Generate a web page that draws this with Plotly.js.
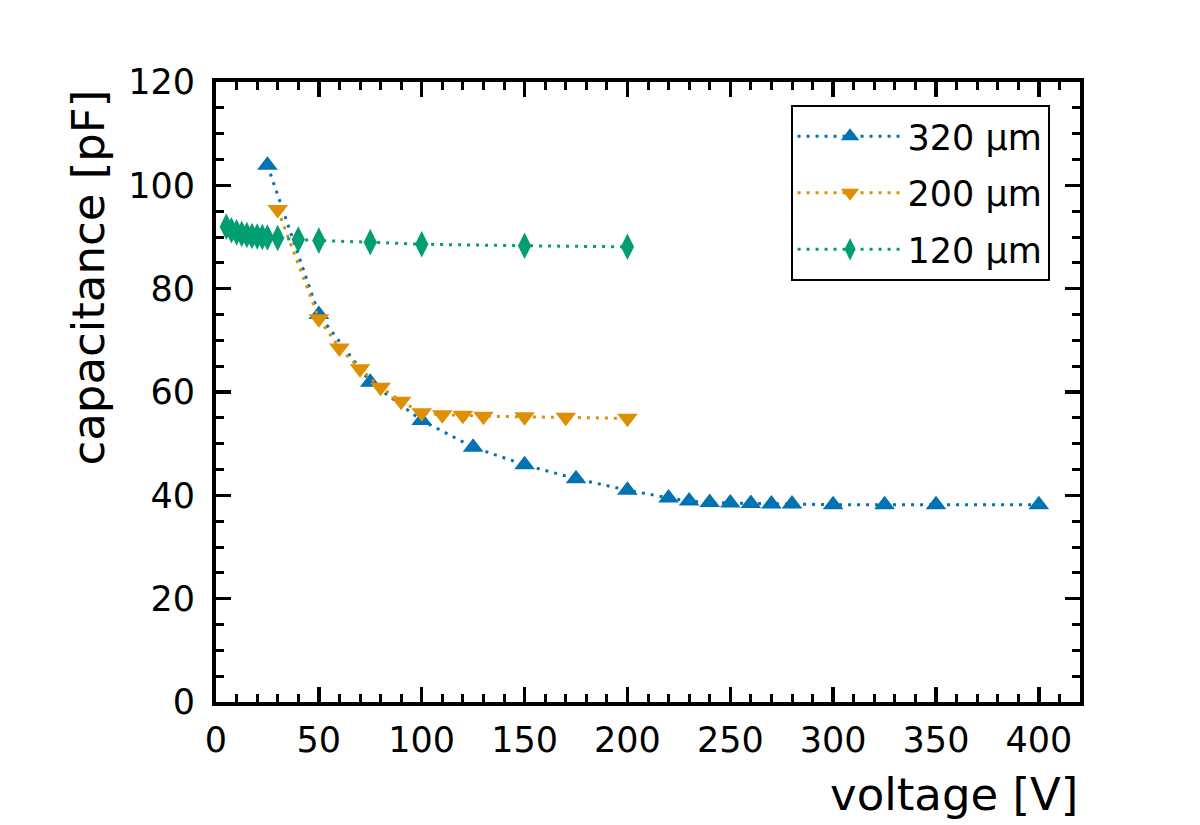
<!DOCTYPE html>
<html>
<head>
<meta charset="utf-8">
<script src="https://cdn.plot.ly/plotly-3.0.1.min.js"></script>
<style>html,body{margin:0;padding:0;background:#fff;}#chart{width:1200px;height:825px;}</style>
</head>
<body>
<div id="chart"></div>
<script>
// 320 µm
const v320 = [25, 50, 75, 100, 125, 150, 175, 200, 220, 230, 240, 250, 260, 270, 280, 300, 325, 350, 400];
const c320 = [103.9, 75.0, 61.9, 54.5, 49.3, 45.9, 43.2, 41.0, 39.5, 38.9, 38.6, 38.5, 38.4, 38.3, 38.3, 38.2, 38.2, 38.2, 38.2];
// 200 µm
const v200 = [30, 50, 60, 70, 80, 90, 100, 110, 120, 130, 150, 170, 200];
const c200 = [95.3, 74.2, 68.5, 64.5, 60.9, 58.2, 56.0, 55.6, 55.5, 55.3, 55.2, 55.1, 54.9];
// 120 µm
const v120 = [5, 7.5, 10, 12.5, 15, 17.5, 20, 22.5, 25, 30, 40, 50, 75, 100, 150, 200];
const c120 = [92.0, 91.3, 90.9, 90.6, 90.4, 90.2, 90.1, 90.0, 89.9, 89.8, 89.5, 89.3, 89.0, 88.6, 88.3, 88.1];

const seriesNames = ['320 µm', '200 µm', '120 µm'];
const xTitle = 'voltage [V]';
const yTitle = 'capacitance [pF]';

const colors = ['#0173B2', '#DE8F05', '#029E73'];
const symbols = ['triangle-up', 'triangle-down', 'diamond-tall'];
const xs = [v320, v200, v120];
const ys = [c320, c200, c120];

const traces = xs.map((x, i) => ({
  x: x, y: ys[i], name: seriesNames[i], type: 'scatter', mode: 'lines+markers',
  legendgroup: 'g' + i,
  line: {color: colors[i], width: 3, dash: '3px,6px'},
  marker: {color: colors[i], symbol: symbols[i], size: i === 2 ? 19 : 18, line: {width: 0}}
}));

const axisCommon = {
  showline: true, linecolor: '#000', linewidth: 4, mirror: 'allticks',
  ticks: 'inside', ticklen: 15, tickwidth: 3.3, tickcolor: '#000',
  showgrid: false, zeroline: false,
  tickfont: {family: 'DejaVu Sans', size: 35, color: '#000'}
};

const layout = {
  width: 1200, height: 825,
  margin: {l: 216, r: 120, t: 82, b: 123},
  paper_bgcolor: '#fff', plot_bgcolor: '#fff',
  font: {family: 'DejaVu Sans', color: '#000'},
  showlegend: true,
  legend: {
    x: 0.665, y: 0.963, xanchor: 'left', yanchor: 'top',
    bordercolor: '#000', borderwidth: 2, bgcolor: '#fff',
    font: {family: 'DejaVu Sans', size: 35, color: '#000'},
    traceorder: 'grouped', tracegroupgap: 8, itemwidth: 105
  },
  xaxis: Object.assign({}, axisCommon, {
    range: [0, 420], dtick: 50, tick0: 0,
    minor: {dtick: 10, ticks: 'inside', ticklen: 8, tickwidth: 3, tickcolor: '#000'},
    ticklabelstandoff: 4
  }),
  yaxis: Object.assign({}, axisCommon, {
    range: [0, 120], dtick: 20, tick0: 0,
    minor: {dtick: 5, ticks: 'inside', ticklen: 8, tickwidth: 3, tickcolor: '#000'},
    ticklabelstandoff: 10
  }),
  annotations: [
    {text: xTitle, xref: 'paper', yref: 'paper', x: 1, y: 0, xanchor: 'right', yanchor: 'top',
     yshift: -64, showarrow: false, font: {family: 'DejaVu Sans', size: 45, color: '#000'}},
    {text: yTitle, xref: 'paper', yref: 'paper', x: 0, y: 1, xanchor: 'right', yanchor: 'top',
     xshift: -100, yshift: -6, textangle: -90, showarrow: false, font: {family: 'DejaVu Sans', size: 45, color: '#000'}}
  ]
};

Plotly.newPlot('chart', traces, layout, {staticPlot: true, displayModeBar: false});
</script>
</body>
</html>
